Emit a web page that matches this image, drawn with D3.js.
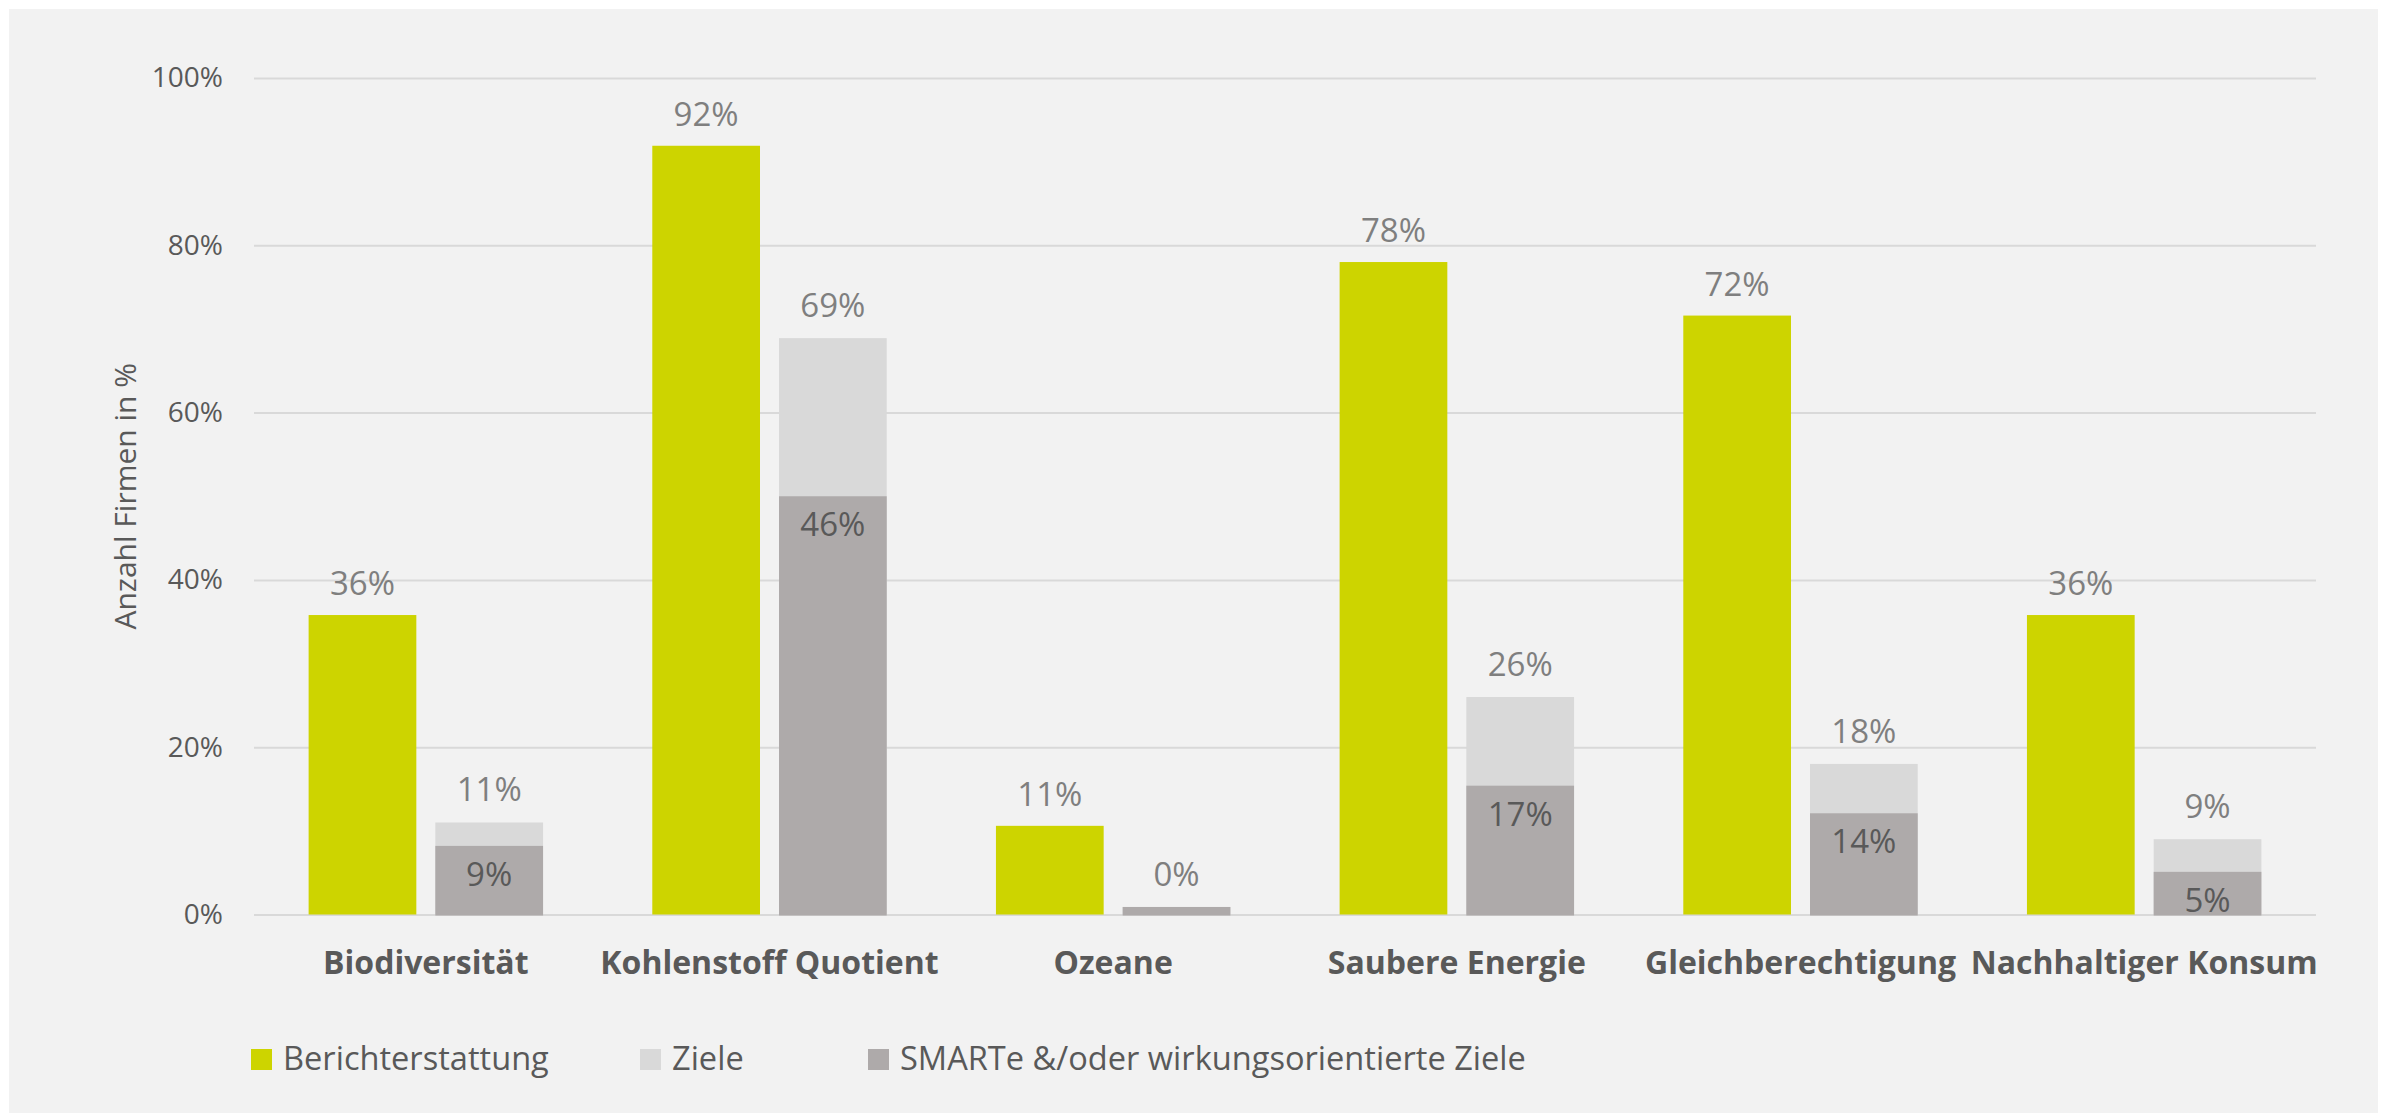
<!DOCTYPE html>
<html>
<head>
<meta charset="utf-8">
<script src="https://cdn.jsdelivr.net/npm/d3@7"></script>
<style>
  html, body { margin: 0; padding: 0; background: #ffffff; }
  svg { display: block; }
  text { font-family: "Open Sans", "Noto Sans", sans-serif; }
</style>
</head>
<body>
<svg id="chart" width="2387" height="1113"></svg>
<script>
// ---- data ----
const categories = ["Biodiversität", "Kohlenstoff Quotient", "Ozeane", "Saubere Energie", "Gleichberechtigung", "Nachhaltiger Konsum"];
const seriesNames = ["Berichterstattung", "Ziele", "SMARTe &/oder wirkungsorientierte Ziele"];
const berichterstattung = [35.8, 91.9, 10.6, 78.0, 71.6, 35.8];
const berichterstattungLabels = ["36%", "92%", "11%", "78%", "72%", "36%"];
const ziele = [11.0, 68.9, 0.9, 26.0, 18.0, 9.0];
const zieleLabels = ["11%", "69%", "0%", "26%", "18%", "9%"];
const smart = [8.2, 50.0, 0.9, 15.4, 12.1, 5.1];
const smartLabels = ["9%", "46%", "", "17%", "14%", "5%"];
const yTicks = [0, 20, 40, 60, 80, 100];
const yTickLabels = ["0%", "20%", "40%", "60%", "80%", "100%"];

// ---- layout ----
const W = 2387, H = 1113;
const plot = { left: 254, right: 2316, top: 78, bottom: 914.5 };
const colors = { green: "#cdd400", light: "#d9d9d9", dark: "#aeaaaa", grid: "#d9d9d9", text: "#595959", label: "#7f7f7f" };

const svg = d3.select("#chart");

// background panel
svg.append("rect").attr("x", 9).attr("y", 9).attr("width", W - 18).attr("height", H - 9).attr("fill", "#f2f2f2");

const x = d3.scaleBand().domain(categories).range([plot.left, plot.right]).padding(0);
const sub = d3.scaleBand().domain(["a", "b"]).range([0, x.bandwidth()]).paddingInner(0.15).paddingOuter(0.431);
const y = d3.scaleLinear().domain([0, 100]).range([plot.bottom, plot.top]);

// gridlines + y labels via axis
const yAxis = d3.axisLeft(y).tickValues(yTicks).tickSize(-(plot.right - plot.left)).tickPadding(31)
  .tickFormat((d, i) => yTickLabels[i]);
const ga = svg.append("g").attr("transform", `translate(${plot.left},0)`).call(yAxis);
ga.select(".domain").remove();
ga.selectAll(".tick line").attr("stroke", colors.grid).attr("stroke-width", 2);
ga.selectAll(".tick text").attr("fill", colors.text).attr("font-size", 28).attr("font-family", '"Open Sans", sans-serif');

// y title
svg.append("text").attr("transform", `translate(136,${(plot.top + plot.bottom) / 2}) rotate(-90)`)
  .attr("text-anchor", "middle").attr("fill", colors.text).attr("font-size", 30).text("Anzahl Firmen in %");

const groups = svg.append("g").selectAll("g").data(categories).join("g")
  .attr("transform", d => `translate(${x(d)},0)`);

// green bars
groups.append("rect")
  .attr("x", sub("a")).attr("width", sub.bandwidth())
  .attr("y", (d, i) => y(berichterstattung[i]))
  .attr("height", (d, i) => y(0) - y(berichterstattung[i]))
  .attr("fill", colors.green);
// light grey (Ziele)
groups.append("rect")
  .attr("x", sub("b")).attr("width", sub.bandwidth())
  .attr("y", (d, i) => y(ziele[i]))
  .attr("height", (d, i) => y(0) - y(ziele[i]))
  .attr("fill", colors.light);
// dark grey (SMART)
groups.append("rect")
  .attr("x", sub("b")).attr("width", sub.bandwidth())
  .attr("y", (d, i) => y(smart[i]))
  .attr("height", (d, i) => y(0) - y(smart[i]) + 1)
  .attr("fill", colors.dark);

// labels
groups.append("text")
  .attr("x", sub("a") + sub.bandwidth() / 2)
  .attr("y", (d, i) => y(berichterstattung[i]) - 20)
  .attr("text-anchor", "middle").attr("font-size", 33).attr("fill", colors.label)
  .text((d, i) => berichterstattungLabels[i]);
groups.append("text")
  .attr("x", sub("b") + sub.bandwidth() / 2)
  .attr("y", (d, i) => y(ziele[i]) - 21)
  .attr("text-anchor", "middle").attr("font-size", 33).attr("fill", colors.label)
  .text((d, i) => zieleLabels[i]);
groups.append("text")
  .attr("x", sub("b") + sub.bandwidth() / 2)
  .attr("y", (d, i) => y(smart[i]) + 40)
  .attr("text-anchor", "middle").attr("font-size", 33).attr("fill", colors.text)
  .text((d, i) => smartLabels[i]);

// category labels
groups.append("text")
  .attr("x", x.bandwidth() / 2).attr("y", 974)
  .attr("text-anchor", "middle").attr("font-size", 32).attr("font-weight", "bold").attr("fill", colors.text)
  .text(d => d);

// legend
const legendX = [251, 640, 868];
const legendColors = [colors.green, colors.light, colors.dark];
const leg = svg.append("g").selectAll("g").data(seriesNames).join("g")
  .attr("transform", (d, i) => `translate(${legendX[i]},1049)`);
leg.append("rect").attr("width", 21).attr("height", 21).attr("fill", (d, i) => legendColors[i]);
leg.append("text").attr("x", 32).attr("y", 21).attr("font-size", 32.6).attr("fill", colors.text).text(d => d);
</script>
</body>
</html>
